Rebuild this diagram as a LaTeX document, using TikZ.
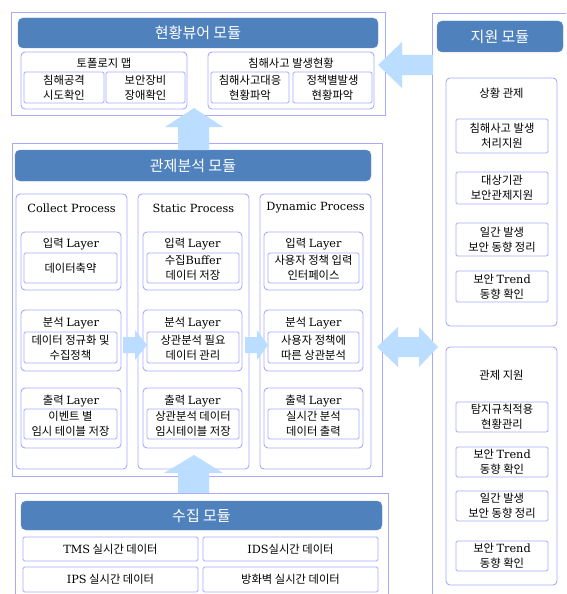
\documentclass[tikz,border=0pt]{standalone}
\usepackage{fontspec}
\setmainfont{DejaVu Serif}
\newfontfamily\kr{Noto Sans CJK KR}
\newcommand\lat[1]{{\rmfamily #1}}
\definecolor{lav}{HTML}{A9A9FF}
\definecolor{hdr}{HTML}{4F81BD}
\definecolor{arr}{HTML}{BBDDFF}
\tikzset{
  outerbox/.style={draw=lav, line width=0.9pt},
  hdrbox/.style={fill=hdr, draw=hdr!85!white, rounded corners=5pt, text=white, font=\kr\fontsize{15}{17}\selectfont},
  rbox/.style={draw=lav, line width=0.9pt, rounded corners=4pt},
  ibox/.style={draw=lav, line width=0.9pt, rounded corners=1.5pt, align=center, font=\kr\fontsize{11.3}{15}\selectfont},
  lbl/.style={font=\kr\fontsize{11.3}{13}\selectfont, inner sep=0pt},
  ptitle/.style={font=\rmfamily\fontsize{11.3}{13}\selectfont, inner sep=0pt},
  fatarrow/.style={fill=arr, draw=none},
}
\newcommand\mybox[7]{\node[#2, minimum width={(#5-#3)*1pt}, minimum height={(#6-#4)*1pt}, inner sep=0pt, outer sep=0pt] (#1) at ({(#3+#5)/2},{(#4+#6)/2}) {#7};}
\begin{document}
\begin{tikzpicture}[x=1pt,y=-1pt]
\useasboundingbox (0,0) rectangle (566,594);
\clip (0,0) rectangle (566,594);
\fill[white] (0,0) rectangle (566,594);

% ---------- viewer module ----------
\mybox{viewer}{outerbox}{11}{12}{385}{115}{}
\mybox{viewerhd}{hdrbox}{18}{18}{378}{48}{현황뷰어 모듈}
\mybox{topo}{rbox}{21}{52}{187}{109}{}
\node[lbl] (topot) at (104,63) {토폴로지 맵};
\mybox{topoa}{ibox}{24}{72}{104}{103}{침해공격\\시도확인}
\mybox{topob}{ibox}{106}{72}{185}{103}{보안장비\\장애확인}
\mybox{inc}{rbox}{208}{52}{374}{109}{}
\node[lbl] (inct) at (291,63) {침해사고 발생현황};
\mybox{inca}{ibox}{211}{72}{289}{103}{침해사고대응\\현황파악}
\mybox{incb}{ibox}{293}{72}{372}{103}{정책별발생\\현황파악}

% ---------- analysis module ----------
\mybox{ana}{outerbox}{12}{143}{382}{476}{}
\mybox{anahd}{hdrbox}{15}{150}{371}{181}{관제분석 모듈}

\mybox{pc}{rbox}{16}{194}{127}{469}{}
\mybox{ps}{rbox}{138}{194}{249}{469}{}
\mybox{pd}{rbox}{260}{194}{371}{469}{}
\node[ptitle] (pct) at (71.5,208) {Collect Process};
\node[ptitle] (pst) at (193.5,208) {Static Process};
\node[ptitle] (pdt) at (315.5,208) {Dynamic Process};

% input layer
\mybox{ci}{rbox}{21}{232}{121}{290}{}
\mybox{si}{rbox}{143}{232}{242}{290}{}
\mybox{di}{rbox}{264}{232}{363}{290}{}
\node[lbl] (cit) at (71,244) {입력 \lat{Layer}};
\node[lbl] (sit) at (192.5,244) {입력 \lat{Layer}};
\node[lbl] (dit) at (313.5,244) {입력 \lat{Layer}};
\mybox{cia}{ibox}{24}{253}{117}{283}{데이터축약}
\mybox{sia}{ibox}{147}{253}{239}{283}{수집\lat{Buffer}\\데이터 저장}
\mybox{dia}{ibox}{268}{253}{359}{283}{사용자 정책 입력\\인터페이스}

% analysis layer
\mybox{ca}{rbox}{21}{310}{121}{371}{}
\mybox{sa}{rbox}{143}{310}{242}{371}{}
\mybox{da}{rbox}{264}{310}{363}{371}{}
\node[lbl] (cat) at (71,323) {분석 \lat{Layer}};
\node[lbl] (sat) at (192.5,323) {분석 \lat{Layer}};
\node[lbl] (dat) at (313.5,323) {분석 \lat{Layer}};
\mybox{caa}{ibox}{24}{332}{117}{363}{데이터 정규화 및\\수집정책}
\mybox{saa}{ibox}{147}{332}{239}{363}{상관분석 필요\\데이터 관리}
\mybox{daa}{ibox}{268}{332}{359}{363}{사용자 정책에\\따른 상관분석}

% output layer
\mybox{co}{rbox}{21}{388}{121}{448}{}
\mybox{so}{rbox}{143}{388}{242}{448}{}
\mybox{do}{rbox}{264}{388}{363}{448}{}
\node[lbl] (cot) at (71,401) {출력 \lat{Layer}};
\node[lbl] (sot) at (192.5,401) {출력 \lat{Layer}};
\node[lbl] (dot) at (313.5,401) {출력 \lat{Layer}};
\mybox{coa}{ibox}{24}{409}{117}{439}{이벤트 별\\임시 테이블 저장}
\mybox{soa}{ibox}{147}{409}{239}{439}{상관분석 데이터\\임시테이블 저장}
\mybox{doa}{ibox}{268}{409}{359}{439}{실시간 분석\\데이터 출력}

% ---------- collection module ----------
\mybox{col}{outerbox}{15}{493}{388}{600}{}
\mybox{colhd}{hdrbox}{21}{501}{382}{530}{수집 모듈}
\mybox{tms}{ibox}{23}{537}{198}{561}{\lat{TMS} 실시간 데이터}
\mybox{ids}{ibox}{203}{537}{378}{561}{\lat{IDS}실시간 데이터}
\mybox{ips}{ibox}{23}{567}{198}{592}{\lat{IPS} 실시간 데이터}
\mybox{fw}{ibox}{203}{567}{378}{592}{방화벽 실시간 데이터}

% ---------- support module ----------
\mybox{sup}{outerbox}{432}{13}{568}{600}{}
\mybox{suphd}{hdrbox}{437}{21}{563}{52}{지원 모듈}
\mybox{sitn}{rbox}{446}{78}{557}{326}{}
\node[lbl] (sitnt) at (501.5,93) {상황 관제};
\mybox{sa1}{ibox}{456}{119}{548}{153}{침해사고 발생\\처리지원}
\mybox{sa2}{ibox}{456}{172}{548}{204}{대상기관\\보안관제지원}
\mybox{sa3}{ibox}{456}{223}{548}{256}{일간 발생\\보안 동향 정리}
\mybox{sa4}{ibox}{456}{271}{548}{302}{보안 \lat{Trend}\\동향 확인}
\mybox{ctl}{rbox}{446}{347}{557}{585}{}
\node[lbl] (ctlt) at (501.5,375) {관제 지원};
\mybox{cb1}{ibox}{456}{402}{548}{432}{탐지규칙적용\\현황관리}
\mybox{cb2}{ibox}{456}{447}{548}{477}{보안 \lat{Trend}\\동향 확인}
\mybox{cb3}{ibox}{456}{491}{548}{521}{일간 발생\\보안 동향 정리}
\mybox{cb4}{ibox}{456}{541}{548}{571}{보안 \lat{Trend}\\동향 확인}

% ---------- fat arrows ----------
% support -> viewer
\fill[fatarrow] (378,65) -- (402,42) -- (402,55) -- (433,55) -- (433,75) -- (402,75) -- (402,88) -- cycle;
% analysis -> viewer
\fill[fatarrow] (194,108) -- (223,127) -- (209,127) -- (209,150) -- (178,150) -- (178,127) -- (165,127) -- cycle;
% collection -> analysis
\fill[fatarrow] (194,455) -- (223,473) -- (209,473) -- (209,493) -- (178,493) -- (178,473) -- (164,473) -- cycle;
% collect -> static
\fill[fatarrow] (123,337) -- (135,337) -- (135,330) -- (147,345) -- (135,360) -- (135,353) -- (123,353) -- cycle;
% static -> dynamic
\fill[fatarrow] (245,337) -- (257,337) -- (257,330) -- (268,345) -- (257,360) -- (257,353) -- (245,353) -- cycle;
% analysis <-> support
\fill[fatarrow] (377,347) -- (398,327) -- (398,337) -- (419,337) -- (419,327) -- (438,347) -- (419,367) -- (419,357) -- (398,357) -- (398,367) -- cycle;
\end{tikzpicture}
\end{document}
